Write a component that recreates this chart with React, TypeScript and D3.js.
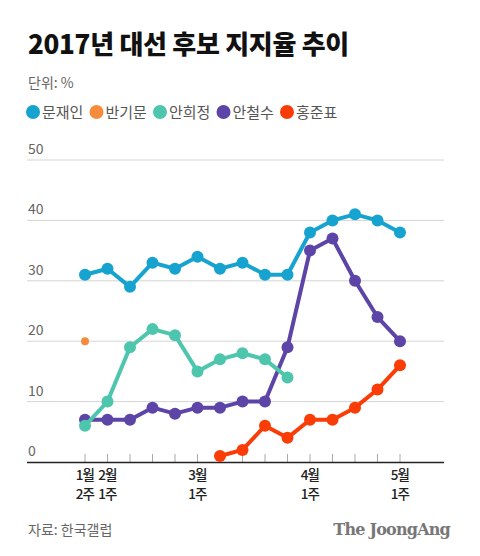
import React from "react";
import * as d3 from "d3";

const weeks = [
  "1월 2주", "2월 1주", "2월 2주", "2월 3주", "2월 4주", "3월 1주", "3월 2주", "3월 3주",
  "3월 4주", "3월 5주", "4월 1주", "4월 2주", "4월 3주", "4월 4주", "5월 1주",
];
const tickLabels: { index: number; line1: string; line2: string }[] = [
  { index: 0, line1: "1월", line2: "2주" },
  { index: 1, line1: "2월", line2: "1주" },
  { index: 5, line1: "3월", line2: "1주" },
  { index: 10, line1: "4월", line2: "1주" },
  { index: 14, line1: "5월", line2: "1주" },
];
const yTicks = [0, 10, 20, 30, 40, 50];

const moonValues: (number | null)[] = [31, 32, 29, 33, 32, 34, 32, 33, 31, 31, 38, 40, 41, 40, 38];
const banValues: (number | null)[] = [20, null, null, null, null, null, null, null, null, null, null, null, null, null, null];
const heeValues: (number | null)[] = [6, 10, 19, 22, 21, 15, 17, 18, 17, 14, null, null, null, null, null];
const cheolValues: (number | null)[] = [7, 7, 7, 9, 8, 9, 9, 10, 10, 19, 35, 37, 30, 24, 20];
const hongValues: (number | null)[] = [null, null, null, null, null, null, 1, 2, 6, 4, 7, 7, 9, 12, 16];

const series = [
  { name: "문재인", color: "#17a3d0", values: moonValues },
  { name: "반기문", color: "#f68b3b", values: banValues },
  { name: "안희정", color: "#4ec5ad", values: heeValues },
  { name: "안철수", color: "#5c45a6", values: cheolValues },
  { name: "홍준표", color: "#fa3c07", values: hongValues },
];
const drawOrder = ["문재인", "반기문", "안철수", "안희정", "홍준표"];

const FONT = "'Noto Sans CJK KR', 'Noto Sans', sans-serif";

export default function App() {
  const W = 480, H = 556;
  const x = d3.scaleLinear().domain([0, weeks.length - 1]).range([85, 400]);
  const y = d3.scaleLinear().domain([0, 50]).range([462, 160]);
  const line = d3
    .line<number | null>()
    .defined((d) => d !== null)
    .x((_, i) => x(i))
    .y((d) => y(d as number));

  const ordered = drawOrder.map((n) => series.find((s) => s.name === n)!);

  return (
    <svg width={W} height={H} style={{ position: "absolute", left: 0, top: 0, background: "#fff" }}>
      <rect width={W} height={H} fill="#fff" />
      <text x={28} y={54} fontFamily={FONT} fontWeight={900} fontSize={26} fill="#111" letterSpacing={-0.3}>
        2017년 대선 후보 지지율 추이
      </text>
      <text x={28} y={88} fontFamily={FONT} fontSize={14} fill="#666">
        단위: %
      </text>
      {series.map((s, i) => (
        <g key={s.name} transform={`translate(${33 + i * 63.5},112)`}>
          <circle r={7} fill={s.color} />
          <text x={9} y={5.5} fontFamily={FONT} fontSize={15} fill="#555">
            {s.name}
          </text>
        </g>
      ))}

      {yTicks.map((t) => (
        <g key={t}>
          {t > 0 && <line x1={27} x2={444} y1={y(t)} y2={y(t)} stroke="#d4d4d4" strokeWidth={1} />}
          <text x={28} y={y(t) - 6} fontFamily={FONT} fontSize={14} fill="#666">
            {t}
          </text>
        </g>
      ))}

      {weeks.map((w, i) => (
        <line key={w} x1={x(i)} x2={x(i)} y1={462} y2={454} stroke="#aaa" strokeWidth={1} />
      ))}
      <line x1={27} x2={444} y1={462.5} y2={462.5} stroke="#222" strokeWidth={1.5} />

      {tickLabels.map((t) => (
        <g key={t.index}>
          <text x={x(t.index)} y={480} textAnchor="middle" fontFamily={FONT} fontWeight={500} fontSize={13.5} fill="#222" letterSpacing={-0.9}>
            {t.line1}
          </text>
          <text x={x(t.index)} y={499} textAnchor="middle" fontFamily={FONT} fontWeight={500} fontSize={13.5} fill="#222" letterSpacing={-0.9}>
            {t.line2}
          </text>
        </g>
      ))}

      {ordered.map((s) => (
        <g key={s.name}>
          <path d={line(s.values) || ""} fill="none" stroke={s.color} strokeWidth={4} strokeLinejoin="round" />
          {s.values.map((v, i) =>
            v === null ? null : (
              <circle key={i} cx={x(i)} cy={y(v)} r={s.name === "반기문" ? 4 : 6} fill={s.color} />
            )
          )}
        </g>
      ))}

      <text x={28} y={535} fontFamily={FONT} fontSize={14} fill="#666">
        자료: 한국갤럽
      </text>
      <text x={450} y={535} textAnchor="end" fontFamily="'DejaVu Serif', 'Liberation Serif', serif" fontWeight={700} fontSize={16} fill="#777" letterSpacing={-0.8}>
        The JoongAng
      </text>
    </svg>
  );
}
